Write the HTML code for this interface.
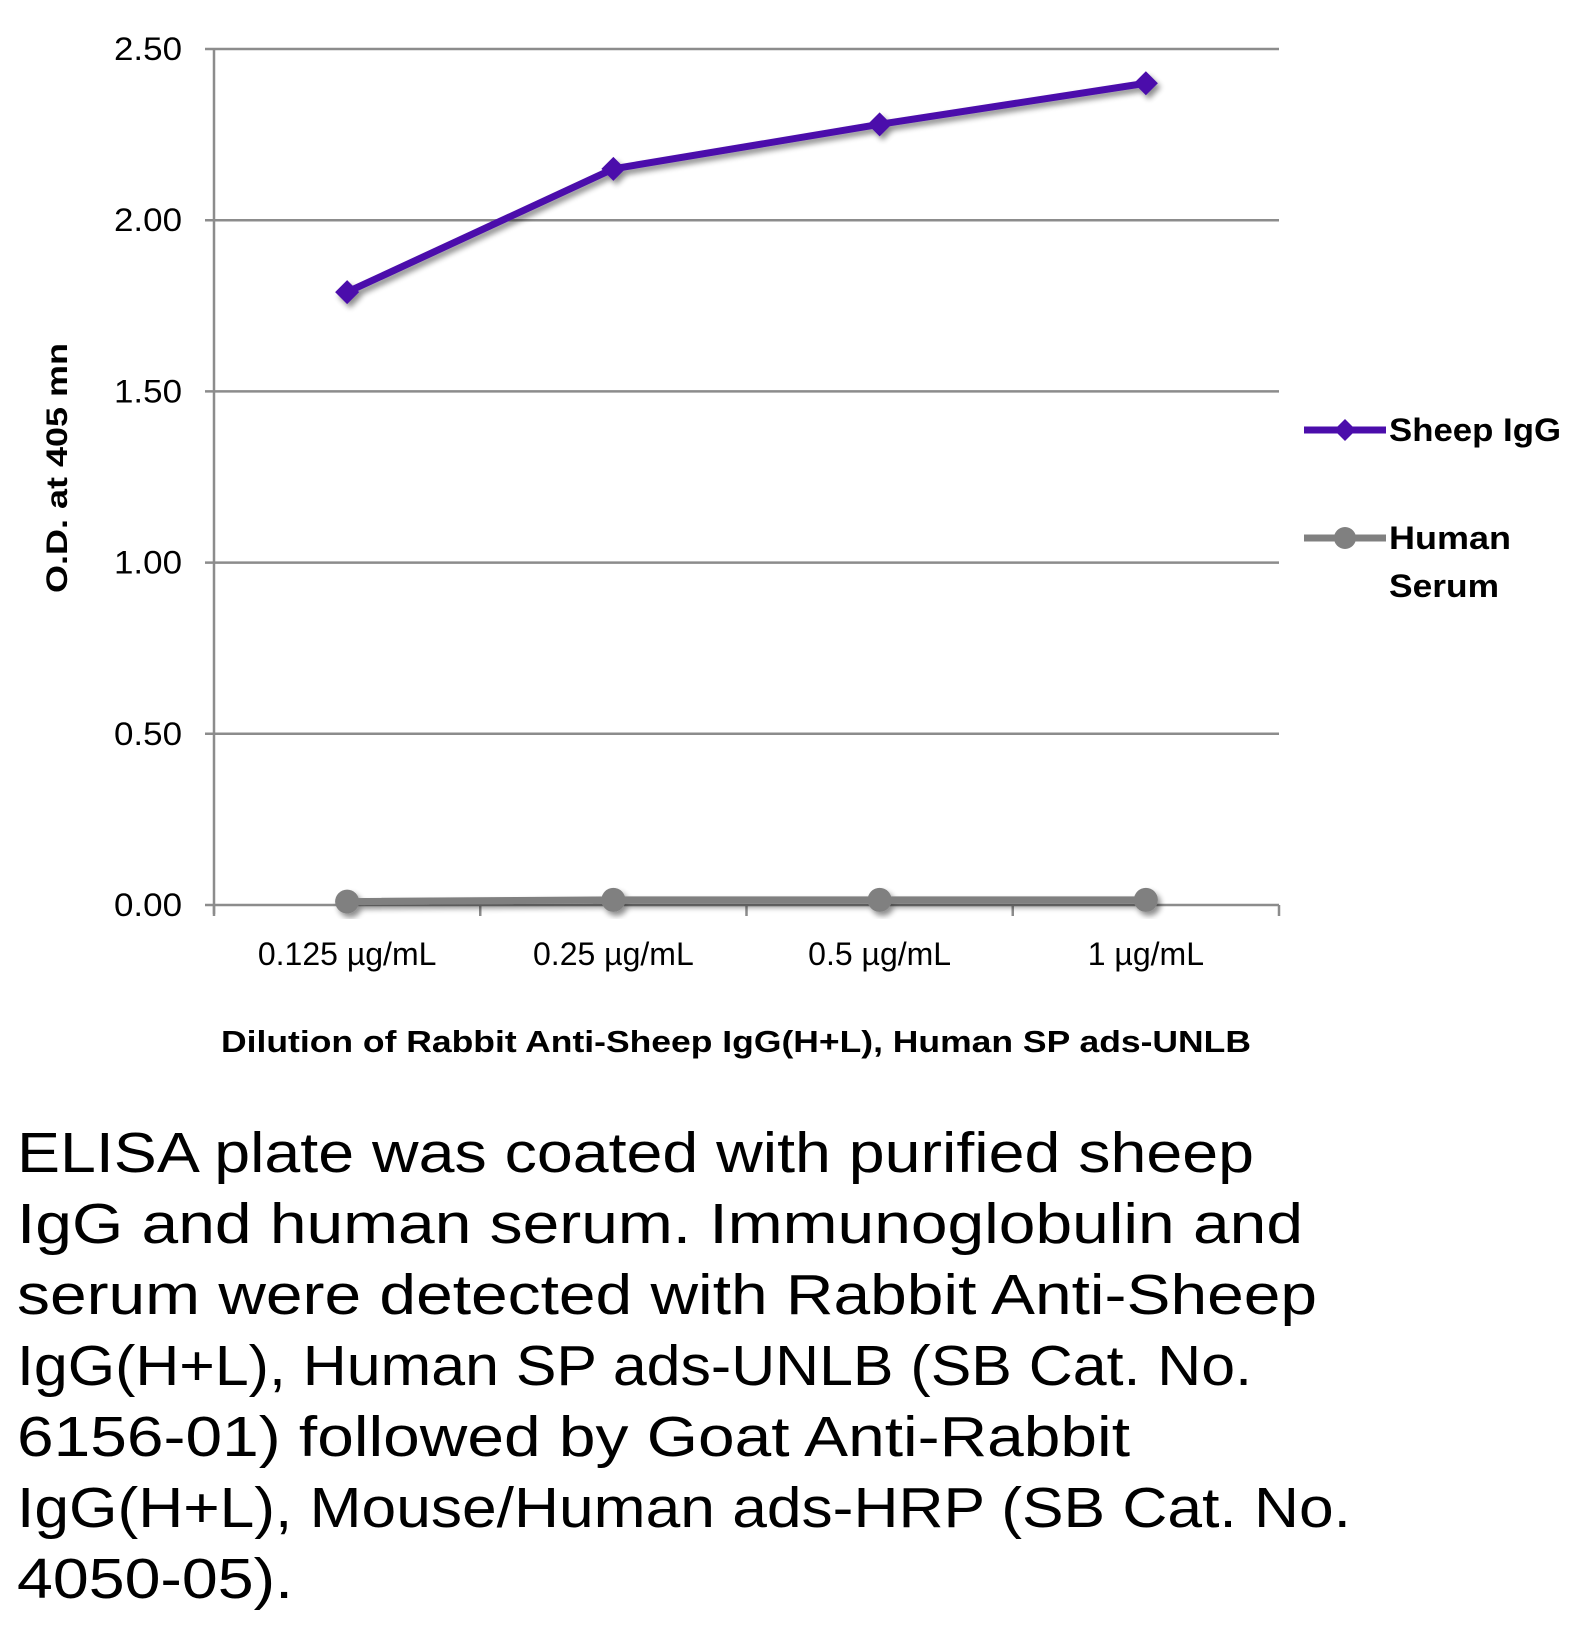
<!DOCTYPE html>
<html><head><meta charset="utf-8"><style>
html,body{margin:0;padding:0;background:#fff}
svg{display:block}
text{font-family:"Liberation Sans",sans-serif}
</style></head><body>
<svg id="chart" width="1590" height="1627" viewBox="0 0 1590 1627" xmlns="http://www.w3.org/2000/svg">
<defs>
<filter id="sh" x="-20%" y="-20%" width="140%" height="140%"><feGaussianBlur in="SourceAlpha" stdDeviation="3"/><feOffset dx="3" dy="4"/><feComponentTransfer><feFuncA type="linear" slope="0.45"/></feComponentTransfer><feMerge><feMergeNode/><feMergeNode in="SourceGraphic"/></feMerge></filter>
</defs>
<g id="grid"></g>
<g id="yticks"></g>
<g id="xticks"></g>
<g id="series"></g>
<text transform="translate(67,468) rotate(-90)" text-anchor="middle" font-size="30" font-weight="bold" textLength="250" lengthAdjust="spacingAndGlyphs">O.D. at 405 mn</text>
<text x="736" y="1052" text-anchor="middle" font-size="31" font-weight="bold" textLength="1030" lengthAdjust="spacingAndGlyphs">Dilution of Rabbit Anti-Sheep IgG(H+L), Human SP ads-UNLB</text>
<g>
<g>
<line x1="1304" y1="430" x2="1386" y2="430" stroke="#4b0dab" stroke-width="7"/>
<polygon points="1345,419 1356,430 1345,441 1334,430" fill="#4b0dab"/>
<text x="1389" y="441" font-size="32" font-weight="bold" textLength="172" lengthAdjust="spacingAndGlyphs">Sheep IgG</text>
</g>
<g>
<line x1="1304" y1="538" x2="1386" y2="538" stroke="#808080" stroke-width="7"/>
<circle cx="1345" cy="538" r="11" fill="#808080"/>
<text x="1389" y="549" font-size="32" font-weight="bold" textLength="122" lengthAdjust="spacingAndGlyphs">Human</text>
<text x="1389" y="597" font-size="32" font-weight="bold" textLength="110" lengthAdjust="spacingAndGlyphs">Serum</text>
</g>
</g>
<g font-size="57" fill="#000">
<text x="17" y="1172" textLength="1237" lengthAdjust="spacingAndGlyphs">ELISA plate was coated with purified sheep</text>
<text x="17" y="1243" textLength="1286" lengthAdjust="spacingAndGlyphs">IgG and human serum.  Immunoglobulin and</text>
<text x="17" y="1314" textLength="1300" lengthAdjust="spacingAndGlyphs">serum were detected with Rabbit Anti-Sheep</text>
<text x="17" y="1385" textLength="1235" lengthAdjust="spacingAndGlyphs">IgG(H+L), Human SP ads-UNLB (SB Cat. No.</text>
<text x="17" y="1456" textLength="1113" lengthAdjust="spacingAndGlyphs">6156-01) followed by Goat Anti-Rabbit</text>
<text x="17" y="1527" textLength="1334" lengthAdjust="spacingAndGlyphs">IgG(H+L), Mouse/Human ads-HRP (SB Cat. No.</text>
<text x="17" y="1598" textLength="276" lengthAdjust="spacingAndGlyphs">4050-05).</text>
</g>
</svg>
<script>
const categories = ["0.125 µg/mL","0.25 µg/mL","0.5 µg/mL","1 µg/mL"];
const sheepIgG = [1.79, 2.15, 2.28, 2.40];
const humanSerum = [0.01, 0.015, 0.015, 0.015];
const yTicks = [0, 0.5, 1.0, 1.5, 2.0, 2.5];
const yTickLabels = ["0.00","0.50","1.00","1.50","2.00","2.50"];

const NS="http://www.w3.org/2000/svg";
const L=214,R=1279,T=49,B=905;
const yS=v=>B-(v/2.5)*(B-T);
const step=(R-L)/categories.length;
const xS=i=>L+step*(i+0.5);
function mk(tag,attrs,parent){const e=document.createElementNS(NS,tag);for(const k in attrs)e.setAttribute(k,attrs[k]);parent.appendChild(e);return e;}
const grid=document.getElementById('grid'),yt=document.getElementById('yticks'),xt=document.getElementById('xticks'),ser=document.getElementById('series');
yTicks.forEach((v,i)=>{
  const y=yS(v);
  const g=mk('line',{x1:L-9,y1:y,x2:R,y2:y,stroke:'#8c8c8c','stroke-width':2.5},grid);
  
  
  const t=mk('text',{x:182,y:y+11,'text-anchor':'end','font-size':32,textLength:68,lengthAdjust:'spacingAndGlyphs'},yt);
  t.textContent=yTickLabels[i];
  
  
});
const ax=mk('line',{x1:L,y1:T,x2:L,y2:B+9,stroke:'#8c8c8c','stroke-width':2.5},grid);


for(let i=0;i<=categories.length;i++){
  const x=L+step*i;
  const tk=mk('line',{x1:x,y1:B,x2:x,y2:B+11,stroke:'#8c8c8c','stroke-width':2.5},xt);
  
  
}
categories.forEach((c,i)=>{
  const t=mk('text',{x:xS(i),y:965,'text-anchor':'middle','font-size':32},xt);
  t.textContent=c;
  
  
});
function drawSeries(vals,color,shape,name){
  const g=mk('g',{filter:'url(#sh)'},ser);
  
  
  const pts=vals.map((v,i)=>xS(i)+','+yS(v)).join(' ');
  mk('polyline',{points:pts,fill:'none',stroke:color,'stroke-width':7,'stroke-linejoin':'round'},g);
  vals.forEach((v,i)=>{
    const x=xS(i),y=yS(v);
    let m;
    if(shape==='diamond') m=mk('polygon',{points:`${x},${y-12} ${x+12},${y} ${x},${y+12} ${x-12},${y}`,fill:color},g);
    else m=mk('circle',{cx:x,cy:y,r:12,fill:color},g);
    
    
  });
}
drawSeries(humanSerum,'#808080','circle','human-serum-series');
drawSeries(sheepIgG,'#4b0dab','diamond','sheep-igg-series');
</script>
</body></html>
